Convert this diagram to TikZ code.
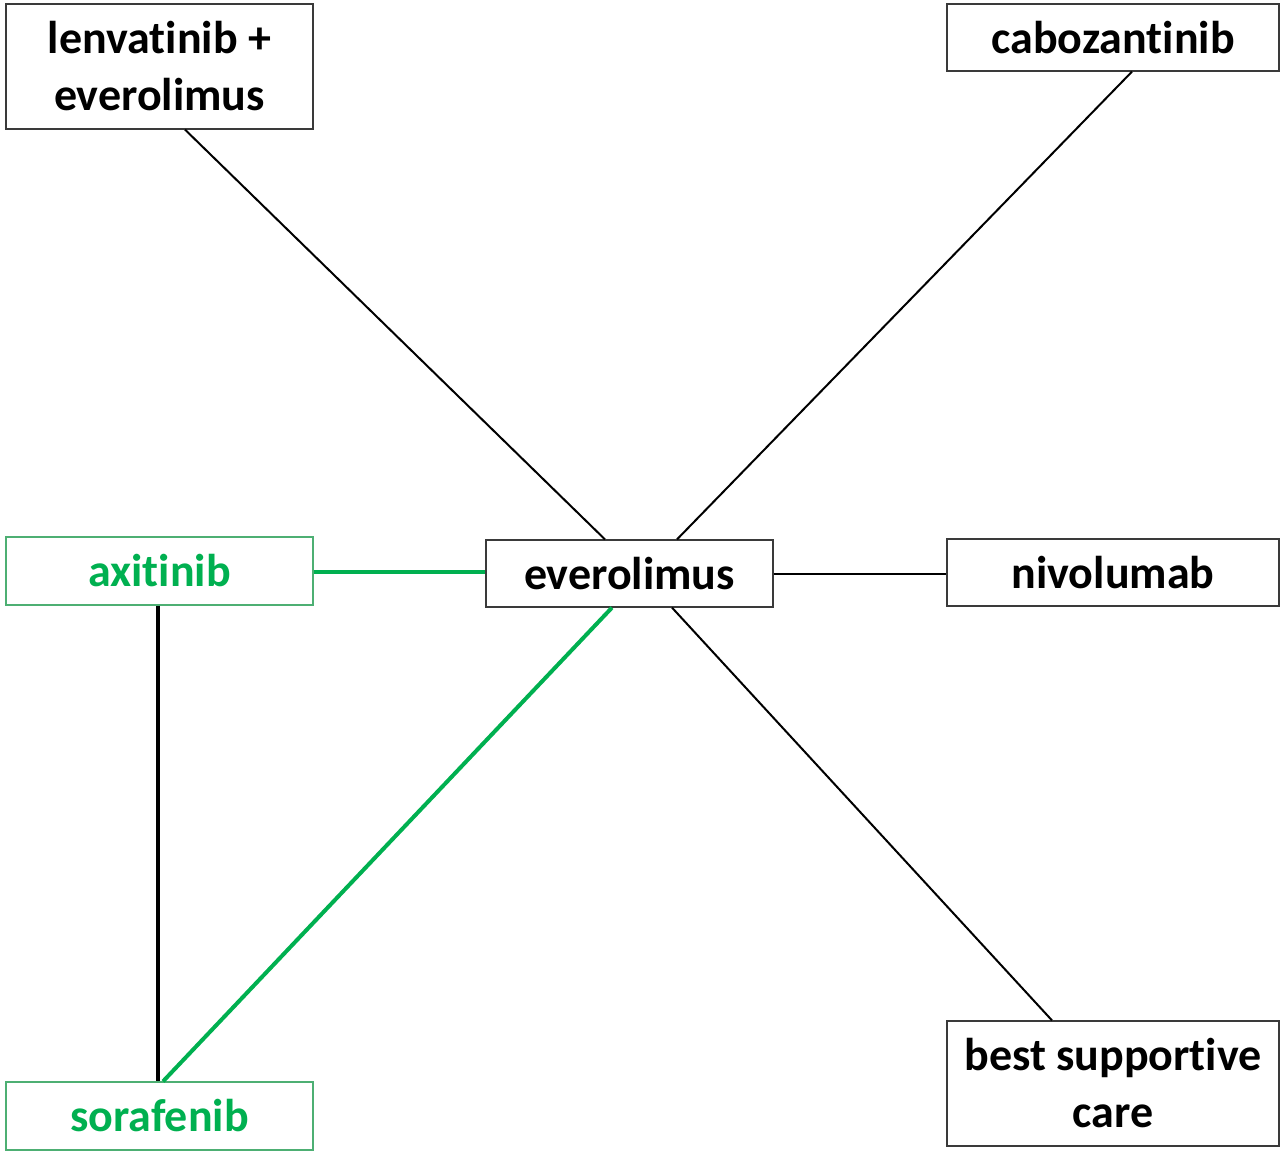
\documentclass[tikz,border=0pt]{standalone}
\usepackage{fontspec}
\setmainfont{Carlito}[RawFeature={-liga;-clig;-calt;-rlig;-dlig}]
\usepackage{tikz}
\usetikzlibrary{positioning}
\definecolor{drugGreen}{HTML}{00B050}
\definecolor{boxGreen}{HTML}{4DAF73}
\definecolor{boxGray}{HTML}{3A3A3A}

\begin{document}
\begin{tikzpicture}[x=0.5pt,y=-0.5pt,
    drug/.style={draw=boxGray,line width=0.6pt,inner sep=0pt,align=center,
      font=\fontsize{23}{28.5}\selectfont\bfseries,minimum height=33.5pt},
    greendrug/.style={drug,draw=boxGreen,text=drugGreen},
    link/.style={line width=1pt},
    greenlink/.style={line width=2pt,draw=drugGreen}]
    \useasboundingbox (0,0) rectangle (1280,1152);
    \node[drug,minimum width=153.5pt,minimum height=62.5pt] (lenv) at (159.5,66.5) {lenvatinib +\\everolimus};
    \node[drug,minimum width=166pt] (cabo) at (1113,37.5) {cabozantinib};
    \node[greendrug,minimum width=153.5pt,minimum height=34pt] (axi) at (159.5,571) {axitinib};
    \node[drug,minimum width=143.5pt] (evero) at (629.5,573.5) {everolimus};
    \node[drug,minimum width=166pt] (nivo) at (1113,572.5) {nivolumab};
    \node[greendrug,minimum width=153.5pt,minimum height=34pt] (sora) at (159.5,1116) {sorafenib};
    \node[drug,minimum width=166pt,minimum height=62.5pt] (bsc) at (1113,1083.5) {best supportive\\care};
    % connections
    \draw[link] ([xshift=12.75pt]lenv.south) -- ([xshift=-12.25pt]evero.north);
    \draw[link] ([xshift=9.5pt]cabo.south) -- ([xshift=23.75pt]evero.north);
    \draw[link] (evero.east) -- (evero.east -| nivo.west);
    \draw[link] ([xshift=21.25pt]evero.south) -- ([xshift=-30.5pt]bsc.north);
    \draw[line width=2pt] ([xshift=-0.75pt]axi.south) -- ([xshift=-0.75pt]sora.north);
    \draw[greenlink] ([yshift=-0.5pt]axi.east) -- ([yshift=-0.5pt]axi.east -| evero.west);
    \draw[greenlink] ([xshift=-8.75pt]evero.south) -- ([xshift=1.75pt]sora.north);
\end{tikzpicture}
\end{document}
